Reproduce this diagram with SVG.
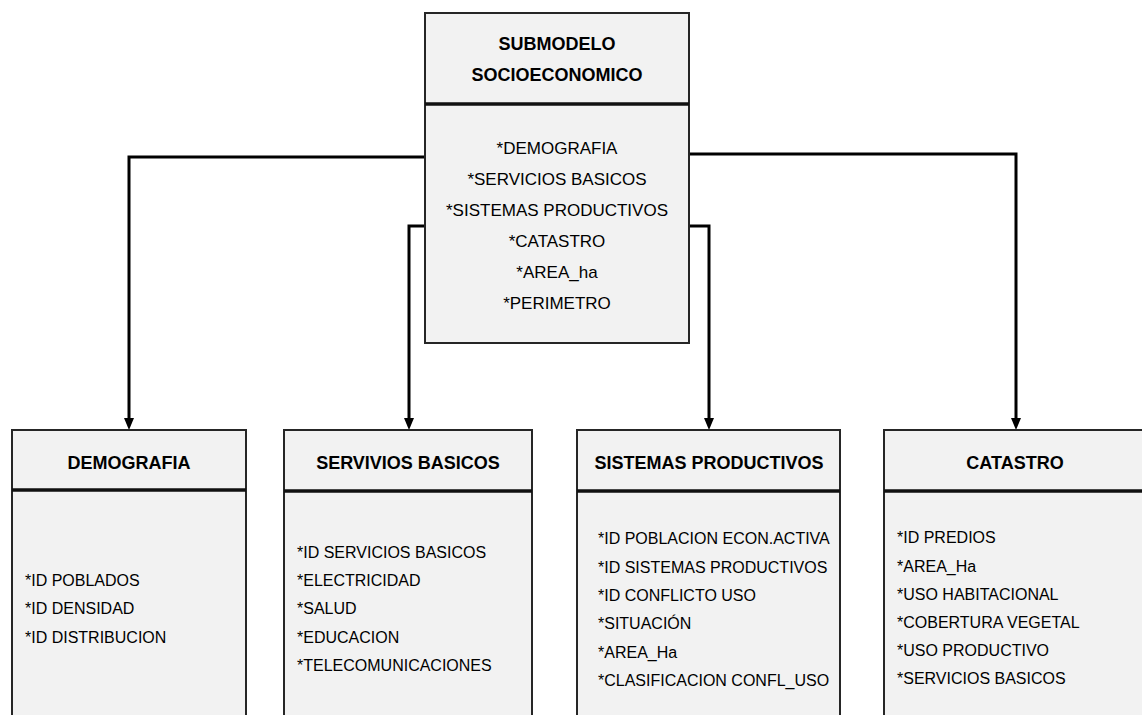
<svg xmlns="http://www.w3.org/2000/svg" width="1142" height="715" viewBox="0 0 1142 715">
<defs>
<style>
.box{fill:#f2f2f2;stroke:#262626;stroke-width:2}
.div{stroke:#111;stroke-width:3.5}
.conn{fill:none;stroke:#000;stroke-width:3}
.t{font-family:"Liberation Sans",Arial,sans-serif;font-size:18px;font-weight:bold;fill:#000;text-anchor:middle}
.c{font-family:"Liberation Sans",Arial,sans-serif;font-size:17px;fill:#000;text-anchor:middle}
.i{font-family:"Liberation Sans",Arial,sans-serif;font-size:16px;fill:#000}
</style>
<marker id="arr" viewBox="0 0 12 10" refX="0" refY="5" markerWidth="12" markerHeight="10" markerUnits="userSpaceOnUse" orient="auto">
<path d="M0,0 L12,5 L0,10 z" fill="#000"/>
</marker>
</defs>
<rect width="1142" height="715" fill="#fff"/>
<g id="connectors">
<path class="conn" d="M425,157 H129 V418" marker-end="url(#arr)"/>
<path class="conn" d="M425,226 H409 V418" marker-end="url(#arr)"/>
<path class="conn" d="M689,154 H1016 V418" marker-end="url(#arr)"/>
<path class="conn" d="M689,226 H709 V418" marker-end="url(#arr)"/>
</g>
<g id="submodelo">
<rect class="box" x="425" y="13" width="264" height="330"/>
<line class="div" x1="425" y1="104" x2="689" y2="104"/>
<text class="t" x="557" y="50">SUBMODELO</text>
<text class="t" x="557" y="81">SOCIOECONOMICO</text>
<text class="c" x="557" y="154">*DEMOGRAFIA</text>
<text class="c" x="557" y="185">*SERVICIOS BASICOS</text>
<text class="c" x="557" y="216">*SISTEMAS PRODUCTIVOS</text>
<text class="c" x="557" y="247">*CATASTRO</text>
<text class="c" x="557" y="278">*AREA_ha</text>
<text class="c" x="557" y="309">*PERIMETRO</text>
</g>
<g id="demografia">
<rect class="box" x="12" y="430" width="234" height="300"/>
<line class="div" x1="12" y1="490" x2="246" y2="490"/>
<text class="t" x="129" y="469">DEMOGRAFIA</text>
<text class="i" x="25" y="586">*ID POBLADOS</text>
<text class="i" x="25" y="614">*ID DENSIDAD</text>
<text class="i" x="25" y="643">*ID DISTRIBUCION</text>
</g>
<g id="servicios">
<rect class="box" x="284" y="430" width="248" height="300"/>
<line class="div" x1="284" y1="491" x2="532" y2="491"/>
<text class="t" x="408" y="469">SERVIVIOS BASICOS</text>
<text class="i" x="297" y="558">*ID SERVICIOS BASICOS</text>
<text class="i" x="297" y="586">*ELECTRICIDAD</text>
<text class="i" x="297" y="614">*SALUD</text>
<text class="i" x="297" y="643">*EDUCACION</text>
<text class="i" x="297" y="671">*TELECOMUNICACIONES</text>
</g>
<g id="sistemas">
<rect class="box" x="577" y="430" width="263" height="300"/>
<line class="div" x1="577" y1="491" x2="840" y2="491"/>
<text class="t" x="709" y="469">SISTEMAS PRODUCTIVOS</text>
<text class="i" x="598" y="544">*ID POBLACION ECON.ACTIVA</text>
<text class="i" x="598" y="573">*ID SISTEMAS PRODUCTIVOS</text>
<text class="i" x="598" y="601">*ID CONFLICTO USO</text>
<text class="i" x="598" y="629">*SITUACIÓN</text>
<text class="i" x="598" y="658">*AREA_Ha</text>
<text class="i" x="598" y="686">*CLASIFICACION CONFL_USO</text>
</g>
<g id="catastro">
<rect class="box" x="884" y="430" width="280" height="300"/>
<line class="div" x1="884" y1="491" x2="1164" y2="491"/>
<text class="t" x="1015" y="469">CATASTRO</text>
<text class="i" x="897" y="543">*ID PREDIOS</text>
<text class="i" x="897" y="572">*AREA_Ha</text>
<text class="i" x="897" y="600">*USO HABITACIONAL</text>
<text class="i" x="897" y="628">*COBERTURA VEGETAL</text>
<text class="i" x="897" y="656">*USO PRODUCTIVO</text>
<text class="i" x="897" y="684">*SERVICIOS BASICOS</text>
</g>
</svg>
